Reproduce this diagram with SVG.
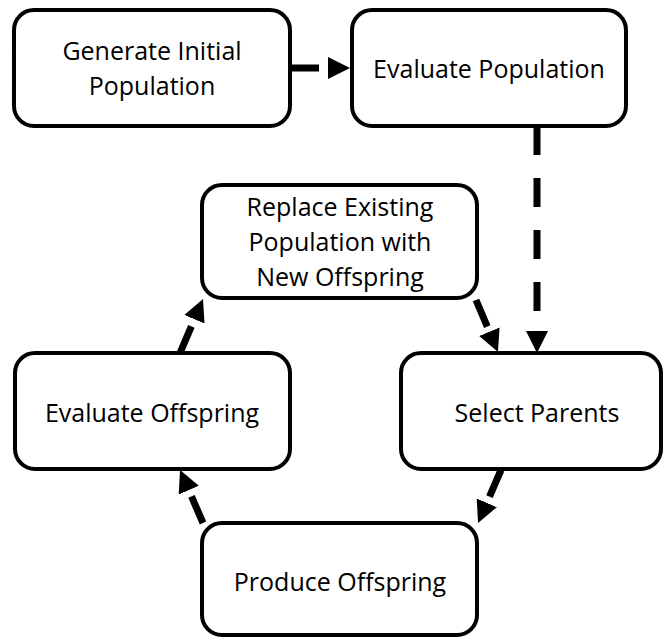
<svg xmlns="http://www.w3.org/2000/svg" width="664" height="637" viewBox="0 0 664 637">
<style>
.box{fill:#fff;stroke:#000;stroke-width:4}
.lbl{font-family:"Open Sans","Noto Sans","Liberation Sans",sans-serif;font-size:25px;fill:#000;text-anchor:middle}
.con{stroke:#000;stroke-width:7;stroke-dasharray:29 23;fill:none;marker-end:url(#ah)}
</style>
<defs>
<marker id="ah" markerUnits="userSpaceOnUse" markerWidth="22" markerHeight="22" viewBox="0 0 22 22" refX="0" refY="11" orient="auto">
<path d="M0,0 L22,11 L0,22 z" fill="#000"/>
</marker>
</defs>
<rect width="664" height="637" fill="#fff"/>
<g id="generate">
<rect class="box" x="14" y="10" width="276" height="116" rx="20"/>
<text class="lbl" x="152" y="60">Generate Initial</text>
<text class="lbl" x="152" y="95">Population</text>
</g>
<g id="evalpop">
<rect class="box" x="352" y="10" width="274" height="116" rx="20"/>
<text class="lbl" x="489" y="78">Evaluate Population</text>
</g>
<g id="replace">
<rect class="box" x="202" y="185" width="275" height="113" rx="20"/>
<text class="lbl" x="340" y="216">Replace Existing</text>
<text class="lbl" x="340" y="251">Population with</text>
<text class="lbl" x="340" y="286">New Offspring</text>
</g>
<g id="evaloff">
<rect class="box" x="15" y="353" width="275" height="116" rx="20"/>
<text class="lbl" x="152" y="422">Evaluate Offspring</text>
</g>
<g id="select">
<rect class="box" x="401" y="353" width="260" height="116" rx="20"/>
<text class="lbl" x="537" y="422">Select Parents</text>
</g>
<g id="produce">
<rect class="box" x="202" y="523" width="275" height="112" rx="20"/>
<text class="lbl" x="340" y="591">Produce Offspring</text>
</g>
<g id="connectors">
<line class="con" x1="290" y1="68" x2="328" y2="68"/>
<line class="con" x1="537" y1="126" x2="537" y2="331"/>
<line class="con" x1="476" y1="300" x2="489.4" y2="331.7"/>
<line class="con" x1="501" y1="470" x2="486.8" y2="502.8"/>
<line class="con" x1="203" y1="523" x2="188.8" y2="490.2"/>
<line class="con" x1="180" y1="353" x2="194.4" y2="319.2"/>
</g>
</svg>
